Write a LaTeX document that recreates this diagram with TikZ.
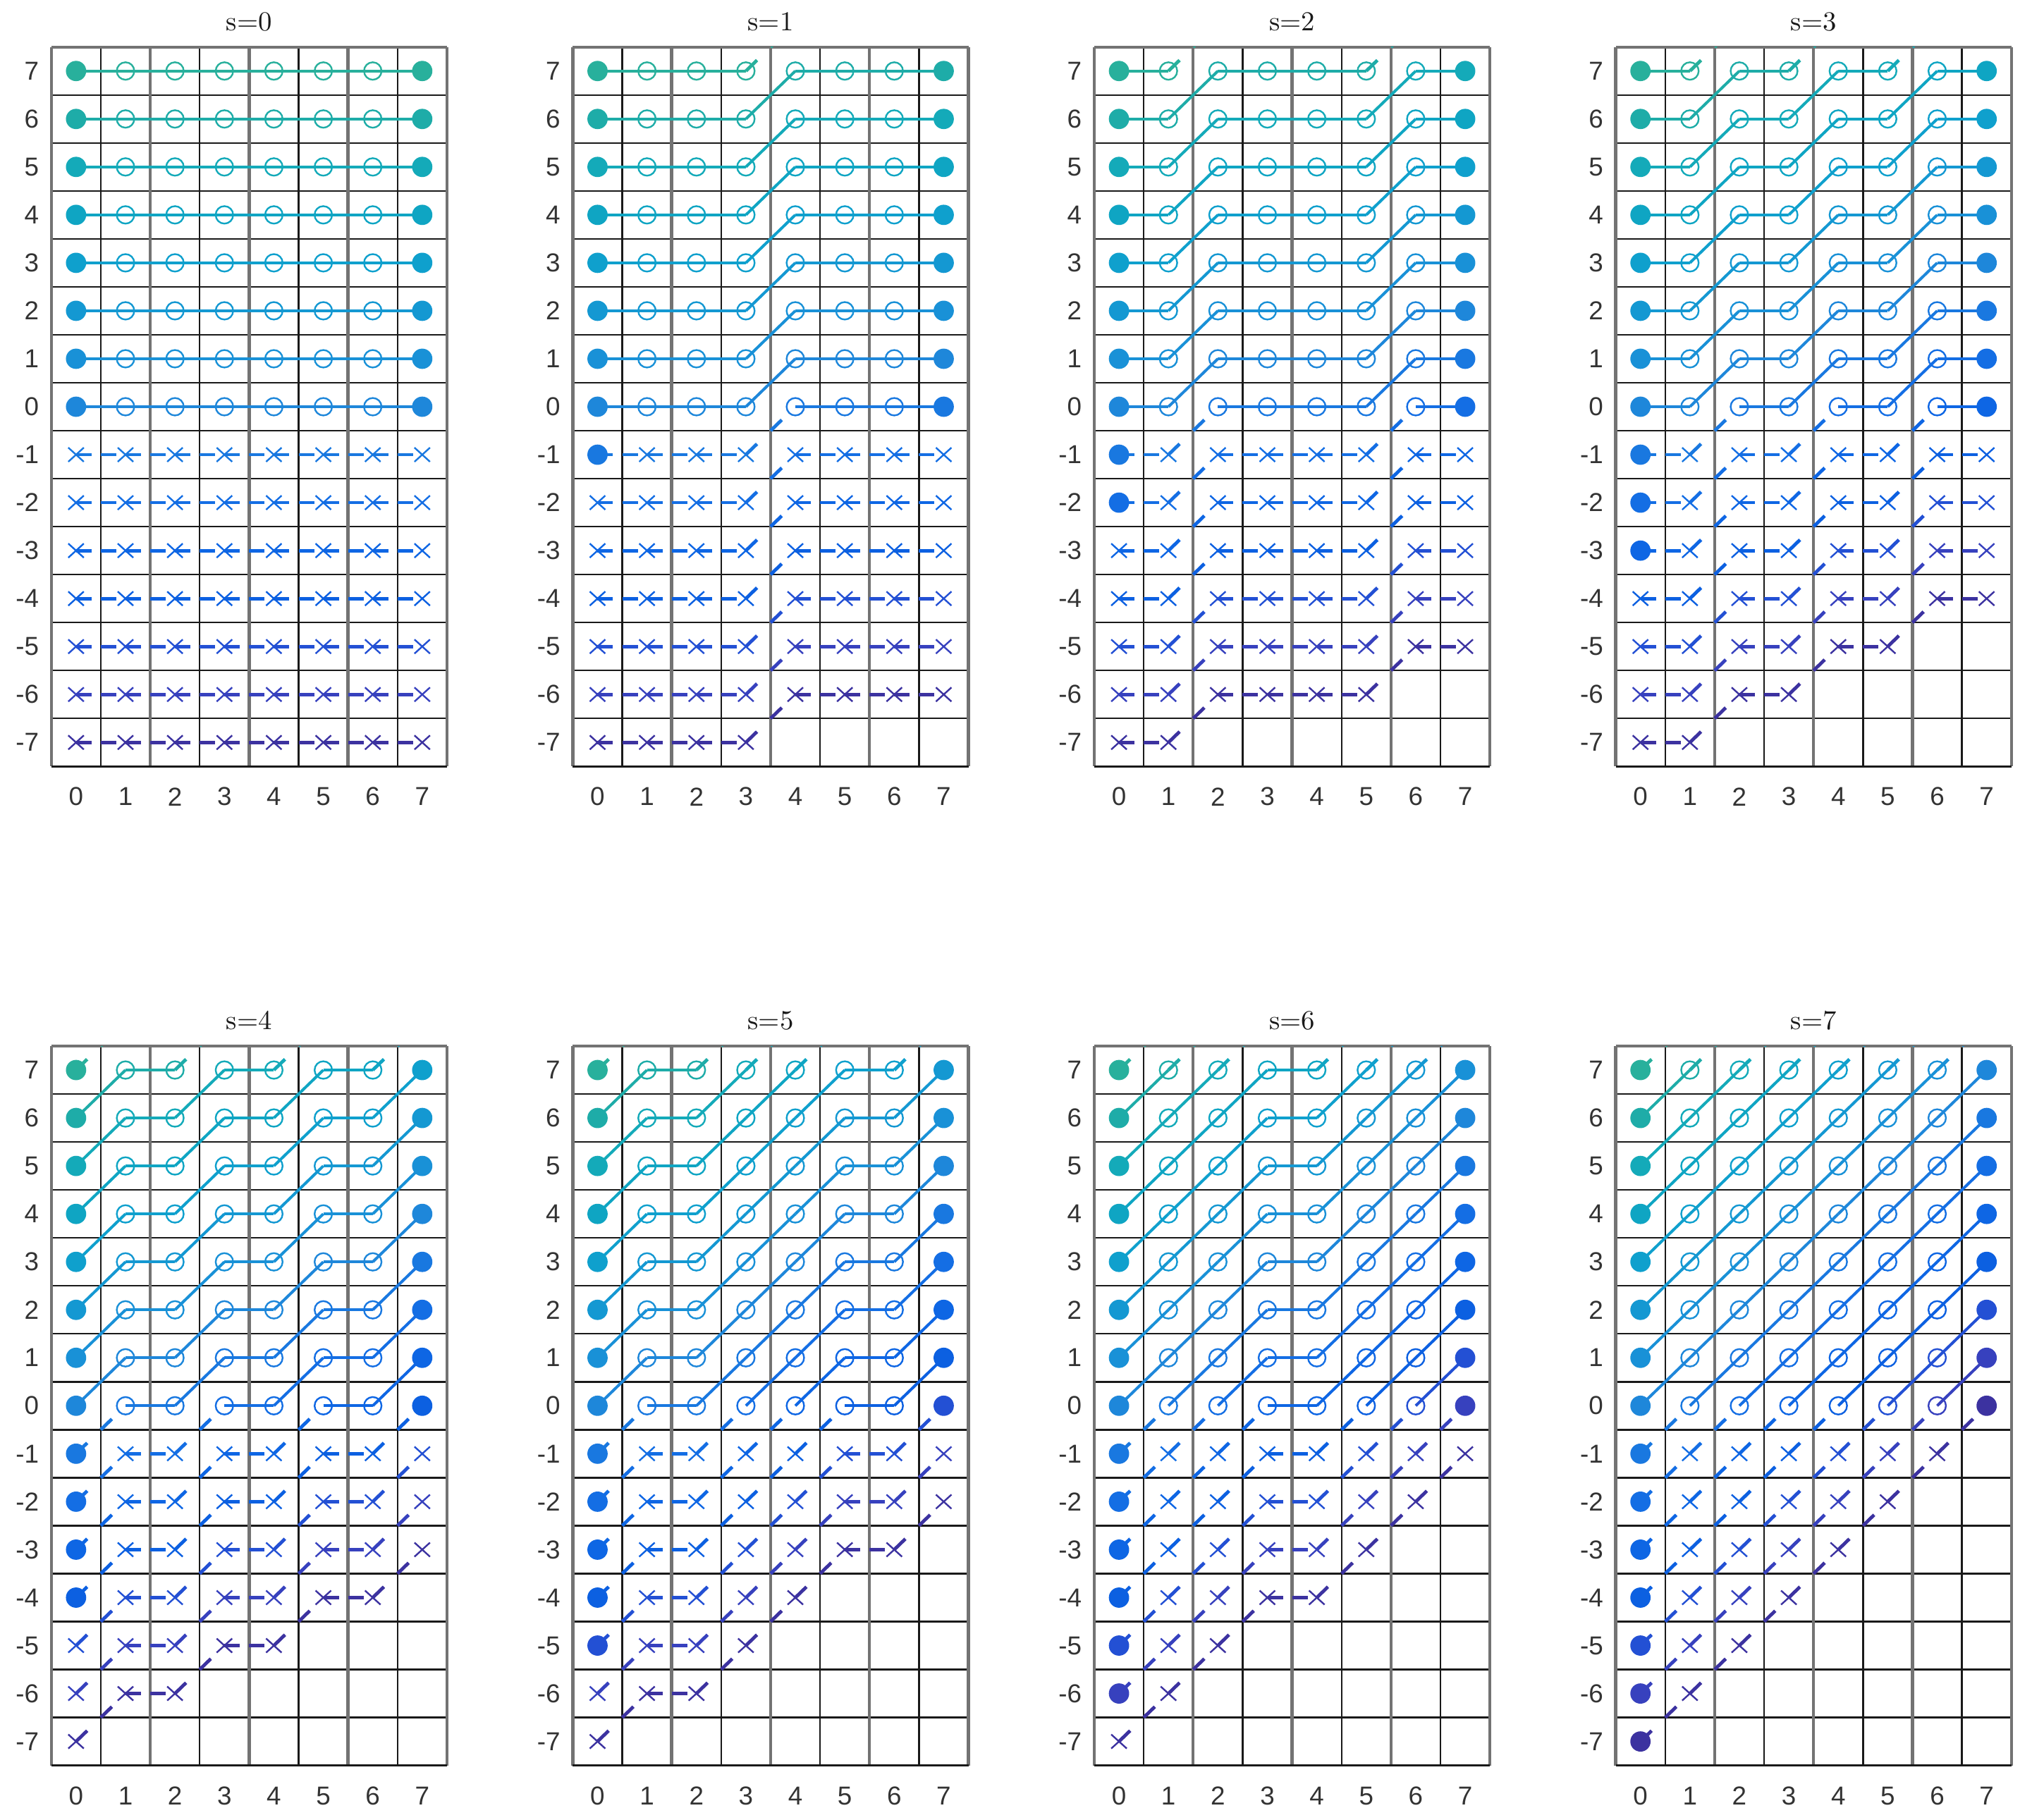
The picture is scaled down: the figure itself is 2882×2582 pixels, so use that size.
\documentclass[tikz,border=0pt]{standalone}
\usepackage{fontspec}
\newfontfamily\ticksfont{Liberation Sans}
\usetikzlibrary{calc}
\definecolor{pc0}{RGB}{60,50,160}
\definecolor{pc1}{RGB}{55,65,190}
\definecolor{pc2}{RGB}{35,80,212}
\definecolor{pc3}{RGB}{12,96,225}
\definecolor{pc4}{RGB}{14,102,228}
\definecolor{pc5}{RGB}{20,110,228}
\definecolor{pc6}{RGB}{25,120,224}
\definecolor{pc7}{RGB}{30,135,218}
\definecolor{pc8}{RGB}{25,145,215}
\definecolor{pc9}{RGB}{20,152,210}
\definecolor{pc10}{RGB}{15,160,205}
\definecolor{pc11}{RGB}{15,165,195}
\definecolor{pc12}{RGB}{20,170,185}
\definecolor{pc13}{RGB}{30,172,168}
\definecolor{pc14}{RGB}{40,176,156}
\begin{document}
\begin{tikzpicture}[x=0.25pt,y=-0.25pt,
  gridblack/.style={line width=0.6pt,black!90},
  gridgray/.style={line width=1.1pt,black!55},
  gridbottom/.style={line width=0.9pt,black!90},
  solidseg/.style={line width=1.0pt},
  dashseg/.style={line width=1.2pt},
  mk/.style={line width=0.6pt},
  ticklab/.style={font=\ticksfont\fontsize{9.2}{11}\selectfont, text=black!80, inner sep=0pt},
  titlelab/.style={font=\fontsize{9.7}{12}\selectfont, text=black!90, inner sep=0pt, anchor=base}]
\useasboundingbox (0,0) rectangle (2882,2582);
\def\cw{70.14}
\def\ch{68.04}
\foreach \s in {0,...,7}{
  \pgfmathsetmacro\L{72.8+739.6*mod(\s,4)}
  \pgfmathsetmacro\T{66.7+1417.3*int(\s/4)}
  % title
  \node[titlelab] (title\s) at ({\L+4*\cw},{\T-23.7}) {s=\s};
  % grid
  \foreach \j in {1,3,5,7} \draw[gridblack] ({\L+\j*\cw},\T) -- ++(0,{15*\ch});
  \foreach \i in {1,...,14} \draw[gridblack] (\L,{\T+\i*\ch}) -- ++({8*\cw},0);
  \foreach \j in {0,2,4,6,8} \draw[gridgray] ({\L+\j*\cw},\T) -- ++(0,{15*\ch});
  \draw[gridgray] (\L,\T) -- ++({8*\cw},0);
  \draw[gridbottom] (\L,{\T+15*\ch}) -- ++({8*\cw},0);
  % tick labels
  \foreach \v in {-7,...,7} \node[ticklab,anchor=east] (yl\s\v) at ({\L-17},{\T+(7.5-\v)*\ch}) {\v};
  \foreach \x in {0,...,7} \node[ticklab] (xl\s\x) at ({\L+(\x+0.5)*\cw},{\T+15*\ch+43}) {\x};
  % connecting lines
  \begin{scope}
    \clip (\L,\T) rectangle ++({8*\cw},{15*\ch});
    \foreach \r in {-7,...,7}{
      \pgfmathtruncatemacro\ci{\r+7}
      \foreach \x in {0,...,6}{
        \pgfmathtruncatemacro\ya{\r+round(\s*\x/7)}
        \pgfmathtruncatemacro\yb{\r+round(\s*(\x+1)/7)}
        \ifnum\ya<8
          \coordinate (A) at ({\L+(\x+0.5)*\cw},{\T+(7.5-\ya)*\ch});
          \coordinate (B) at ({\L+(\x+1.5)*\cw},{\T+(7.5-\yb)*\ch});
          \pgfmathtruncatemacro\ok{(\ya>=0)&&(\ya<=7)&&(\yb>=0)&&(\yb<=7)}
          \ifnum\ok=1
            \draw[solidseg,color=pc\ci] (A) -- (B);
          \else
            \coordinate (M) at ($(A)!0.5!(B)$);
            \draw[dashseg,color=pc\ci] (A) -- ($(A)!5.5pt!(B)$) (M) -- ($(M)!5.5pt!(B)$);
          \fi
        \fi
      }
    }
  \end{scope}
  % markers
  \foreach \r in {-7,...,7}{
    \pgfmathtruncatemacro\ci{\r+7}
    \pgfmathtruncatemacro\fin{\r+\s}
    \foreach \x in {0,...,7}{
      \pgfmathtruncatemacro\ya{\r+round(\s*\x/7)}
      \ifnum\ya<8
        \coordinate (P) at ({\L+(\x+0.5)*\cw},{\T+(7.5-\ya)*\ch});
        \pgfmathtruncatemacro\endpt{(\x==0)||(\x==7)}
        \ifnum\endpt=1
          \ifnum\fin<0
            \draw[mk,color=pc\ci] (P) ++(-11,-10) -- ++(22,20) (P) ++(-11,10) -- ++(22,-20);
          \else
            \fill[color=pc\ci] (P) circle[radius=3.6pt];
          \fi
        \else
          \ifnum\ya<0
            \draw[mk,color=pc\ci] (P) ++(-11,-10) -- ++(22,20) (P) ++(-11,10) -- ++(22,-20);
          \else
            \draw[mk,color=pc\ci] (P) circle[radius=3.1pt];
          \fi
        \fi
      \fi
    }
  }
}
\end{tikzpicture}
\end{document}
